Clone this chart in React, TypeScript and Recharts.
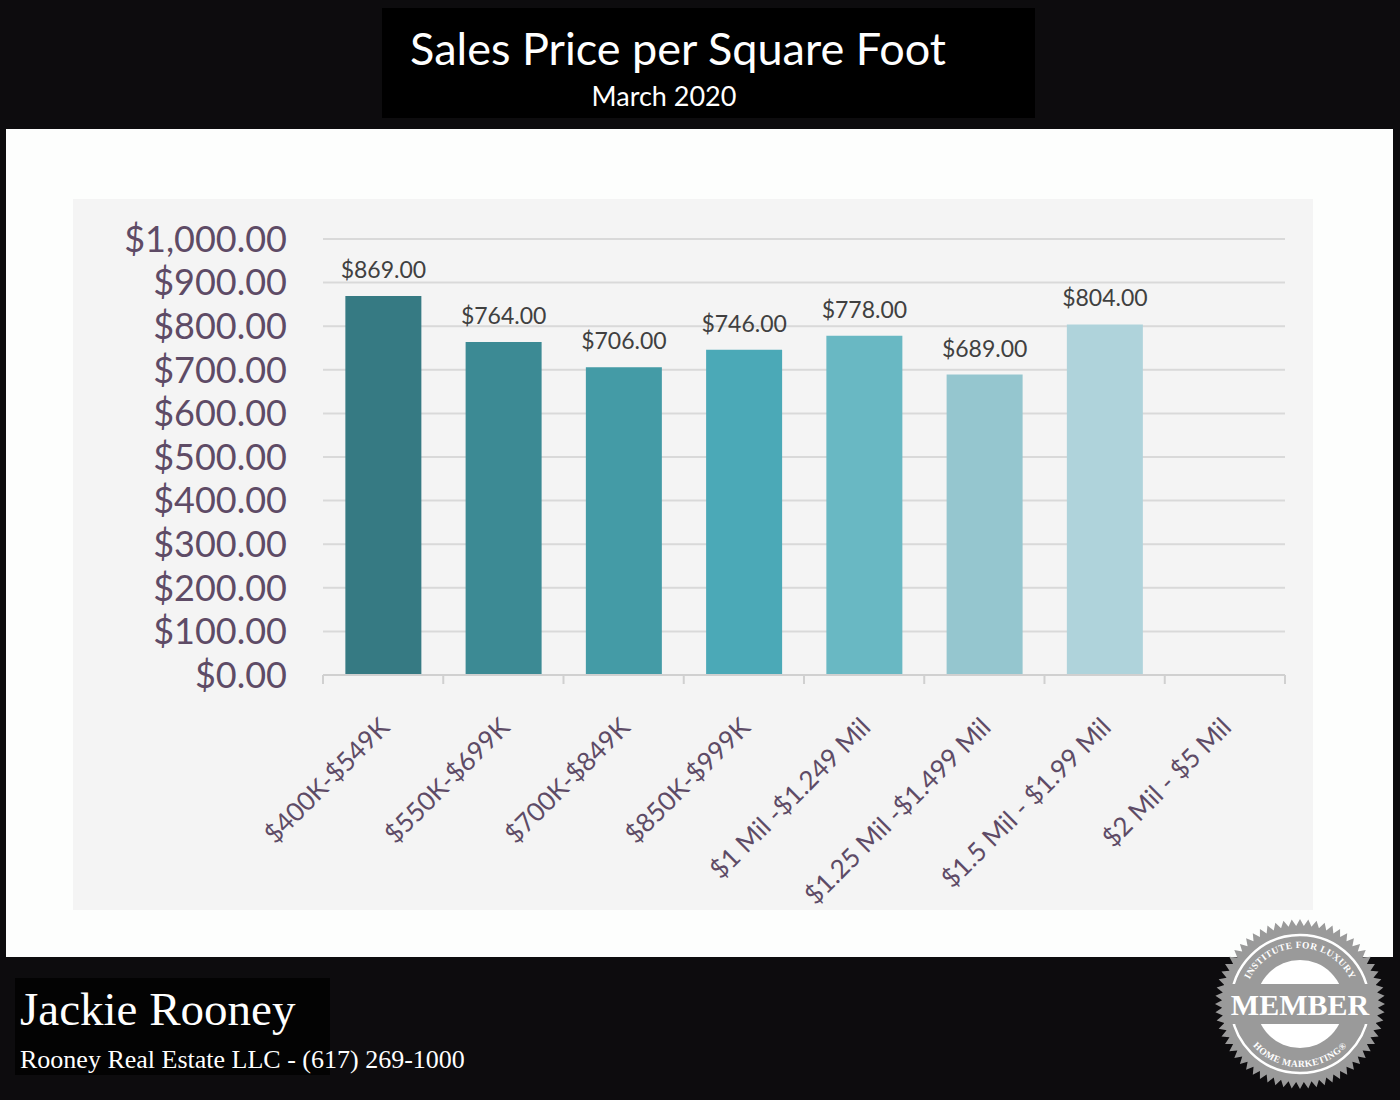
import React from 'react';
import { BarChart, Bar, XAxis, YAxis, CartesianGrid, Cell, LabelList } from 'recharts';

const categories = [
  '$400K-$549K',
  '$550K-$699K',
  '$700K-$849K',
  '$850K-$999K',
  '$1 Mil -$1.249 Mil',
  '$1.25 Mil -$1.499 Mil',
  '$1.5 Mil - $1.99 Mil',
  '$2 Mil - $5 Mil',
];
const pricePerSqFt: (number | null)[] = [869, 764, 706, 746, 778, 689, 804, null];
const yTicks = [0, 100, 200, 300, 400, 500, 600, 700, 800, 900, 1000];
const barColors = ['#367a83', '#3c8a94', '#449ba6', '#4ba9b7', '#69b8c3', '#95c6cf', '#afd3db', '#cde4e9'];

const data = categories.map((c, i) => ({ category: c, value: pricePerSqFt[i] }));

const fmtMoney = (v: number) =>
  '$' + v.toLocaleString('en-US', { minimumFractionDigits: 2, maximumFractionDigits: 2 });

const LABEL_COLOR = '#5e4b66';
const SANS = 'Lato, "Open Sans", sans-serif';
const SERIF = '"Liberation Serif", "DejaVu Serif", serif';

function XTick(props: any) {
  const { x, y, payload, width, visibleTicksCount, index } = props;
  const half =
    payload && typeof payload.offset === 'number' && payload.offset > 0
      ? payload.offset
      : width / visibleTicksCount / 2;
  const ax = x + 8;
  const ay = y + 54;
  return (
    <g>
      <line x1={x - half} x2={x - half} y1={y} y2={y + 9} stroke="#d0d0d0" strokeWidth={2} />
      {index === visibleTicksCount - 1 && (
        <line x1={x + half} x2={x + half} y1={y} y2={y + 9} stroke="#d0d0d0" strokeWidth={2} />
      )}
      <text
        x={ax}
        y={ay}
        transform={`rotate(-45 ${ax} ${ay})`}
        textAnchor="end"
        fill={LABEL_COLOR}
        fontSize={26}
        fontFamily={SANS}
      >
        {payload.value}
      </text>
    </g>
  );
}

function ValueLabel(props: any) {
  const { x, y, width, value } = props;
  if (value == null) return null;
  return (
    <text x={x + width / 2} y={y - 18} textAnchor="middle" fill="#404040" fontSize={23} fontFamily={SANS}>
      {fmtMoney(Number(value))}
    </text>
  );
}

function Badge() {
  const cx = 1300;
  const cy = 1004;
  const teeth = 64;
  const pts: string[] = [];
  for (let i = 0; i < teeth * 2; i++) {
    const r = i % 2 === 0 ? 85 : 78;
    const a = (Math.PI * i) / teeth;
    pts.push(`${(cx + r * Math.cos(a)).toFixed(2)},${(cy + r * Math.sin(a)).toFixed(2)}`);
  }
  return (
    <g>
      <defs>
        <path id="arcTop" d={`M ${cx - 56} ${cy} A 56 56 0 0 1 ${cx + 56} ${cy}`} />
        <path id="arcBot" d={`M ${cx - 63} ${cy} A 63 63 0 0 0 ${cx + 63} ${cy}`} />
      </defs>
      <polygon points={pts.join(' ')} fill="#9a9a9a" />
      <circle cx={cx} cy={cy} r={69} fill="none" stroke="#ffffff" strokeWidth={2.5} />
      <circle cx={cx} cy={cy} r={44} fill="#ffffff" />
      <rect x={cx - 76} y={cy - 20} width={152} height={40} fill="#9a9a9a" />
      <text
        x={cx}
        y={cy + 11}
        textAnchor="middle"
        fill="#ffffff"
        fontSize={30}
        fontWeight="bold"
        fontFamily={SERIF}
      >
        MEMBER
      </text>
      <text fill="#ffffff" fontSize={9.5} fontWeight="bold" fontFamily={SERIF} letterSpacing={0.4}>
        <textPath href="#arcTop" startOffset="50%" textAnchor="middle">
          INSTITUTE FOR LUXURY
        </textPath>
      </text>
      <text fill="#ffffff" fontSize={9.5} fontWeight="bold" fontFamily={SERIF} letterSpacing={0.4}>
        <textPath href="#arcBot" startOffset="50%" textAnchor="middle">
          HOME MARKETING®
        </textPath>
      </text>
    </g>
  );
}

export default function App() {
  return (
    <div
      style={{
        position: 'absolute',
        left: 0,
        top: 0,
        width: 1400,
        height: 1100,
        background: '#0d0c0e',
        overflow: 'hidden',
      }}
    >
      <div style={{ position: 'absolute', left: 382, top: 8, width: 653, height: 110, background: '#000' }} />
      <div style={{ position: 'absolute', left: 6, top: 129, width: 1387, height: 828, background: '#fdfefd' }} />
      <div style={{ position: 'absolute', left: 15, top: 978, width: 315, height: 97, background: '#030303' }} />
      <div style={{ position: 'absolute', left: 73, top: 199, width: 1240, height: 711, background: '#f4f4f4' }}>
        <BarChart
          width={1240}
          height={711}
          data={data}
          margin={{ top: 40, right: 28, left: 0, bottom: 35 }}
          barCategoryGap="18.6%"
        >
          <CartesianGrid vertical={false} stroke="#d9d9d9" strokeWidth={2} />
          <YAxis
            domain={[0, 1000]}
            ticks={yTicks}
            interval={0}
            width={250}
            axisLine={false}
            tickLine={false}
            tickMargin={30}
            tickFormatter={(v: number) => fmtMoney(v)}
            tick={{ fill: LABEL_COLOR, fontSize: 36, fontFamily: SANS }}
          />
          <XAxis
            dataKey="category"
            height={200}
            interval={0}
            tickSize={0}
            tickMargin={0}
            tickLine={false}
            axisLine={{ stroke: '#d0d0d0', strokeWidth: 2 }}
            tick={(p: any) => <XTick {...p} />}
          />
          <Bar dataKey="value" isAnimationActive={false}>
            {data.map((d, i) => (
              <Cell key={d.category} fill={barColors[i]} />
            ))}
            <LabelList dataKey="value" content={(p: any) => <ValueLabel {...p} />} />
          </Bar>
        </BarChart>
      </div>
      <svg
        width={1400}
        height={1100}
        style={{ position: 'absolute', left: 0, top: 0, pointerEvents: 'none' }}
      >
        <text x={678} y={65} textAnchor="middle" fill="#ffffff" fontSize={45} fontFamily={SANS}>
          Sales Price per Square Foot
        </text>
        <text x={664} y={106} textAnchor="middle" fill="#ffffff" fontSize={27} fontFamily={SANS}>
          March 2020
        </text>
        <text x={20} y={1025} fill="#ffffff" fontSize={47} fontFamily={SERIF}>
          Jackie Rooney
        </text>
        <text x={20} y={1068} fill="#ffffff" fontSize={26} fontFamily={SERIF}>
          Rooney Real Estate LLC - (617) 269-1000
        </text>
        <Badge />
      </svg>
    </div>
  );
}
